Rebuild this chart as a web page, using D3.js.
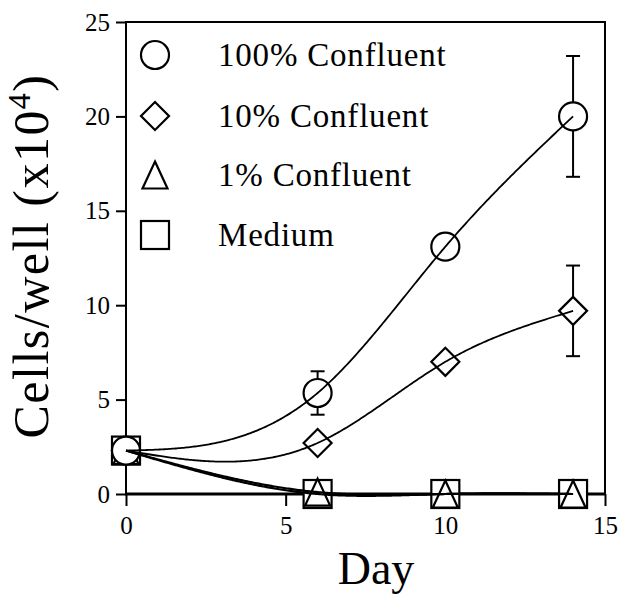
<!DOCTYPE html>
<html><head><meta charset="utf-8">
<script src="https://cdn.jsdelivr.net/npm/d3@7"></script>
<style>body{margin:0;background:#fff}svg{display:block}text{font-family:"Liberation Serif","Times New Roman",serif;fill:#000}</style>
</head><body><svg id="c" width="620" height="594"></svg>
<script>
const days = [0, 6, 10, 14];
const seriesNames = ["100% Confluent", "10% Confluent", "1% Confluent", "Medium"];
const symbolsUsed = ["circle", "diamond", "triangle", "square"];
const conf100 = [2.3, 5.35, 13.1, 20.0];
const conf10 = [2.3, 2.7, 7.0, 9.7];
const conf1 = [2.3, 0.1, 0.0, 0.0];
const medium = [2.3, 0.0, 0.0, 0.0];
const err100 = [0, 1.15, 0, 3.2];
const err10 = [0, 0, 0, 2.4];
const err1 = [0, 0, 0, 0];
const errMedium = [0, 0, 0, 0];
const xTicks = [0, 5, 10, 15];
const yTicks = [0, 5, 10, 15, 20, 25];

const svg = d3.select("#c");
const x = d3.scaleLinear().domain([0, 15]).range([126, 605]);
const y = d3.scaleLinear().domain([0, 25]).range([494, 22]);

// natural cubic spline in x (smooth fit curve through the measured points)
function naturalSpline(xs, ys) {
  const n = xs.length, h = [], M = new Array(n).fill(0);
  for (let i = 0; i < n - 1; i++) h.push(xs[i + 1] - xs[i]);
  const a = [], b = [], c = [], r = [];
  for (let i = 1; i < n - 1; i++) {
    a.push(h[i - 1]); b.push(2 * (h[i - 1] + h[i])); c.push(h[i]);
    r.push(6 * ((ys[i + 1] - ys[i]) / h[i] - (ys[i] - ys[i - 1]) / h[i - 1]));
  }
  const m = b.length;
  for (let i = 1; i < m; i++) { const w = a[i] / b[i - 1]; b[i] -= w * c[i - 1]; r[i] -= w * r[i - 1]; }
  const sol = new Array(m);
  for (let i = m - 1; i >= 0; i--) sol[i] = (r[i] - (i < m - 1 ? c[i] * sol[i + 1] : 0)) / b[i];
  for (let i = 0; i < m; i++) M[i + 1] = sol[i];
  return t => {
    let i = 0; while (i < n - 2 && t > xs[i + 1]) i++;
    const hi = h[i], A = (xs[i + 1] - t) / hi, B = (t - xs[i]) / hi;
    return A * ys[i] + B * ys[i + 1] + ((A * A * A - A) * M[i] + (B * B * B - B) * M[i + 1]) * hi * hi / 6;
  };
}

const series = [
  {name: seriesNames[0], sym: symbolsUsed[0], v: conf100, e: err100, w: 1.8},
  {name: seriesNames[1], sym: symbolsUsed[1], v: conf10, e: err10, w: 1.8},
  {name: seriesNames[2], sym: symbolsUsed[2], v: conf1, e: err1, w: 2.2},
  {name: seriesNames[3], sym: symbolsUsed[3], v: medium, e: errMedium, w: 2.2}
];

function drawSym(g, sym, cx, cy) {
  const s = g.append("g").attr("transform", `translate(${cx},${cy})`)
    .attr("fill", "#fff").attr("stroke", "#000").attr("stroke-width", 2.2);
  if (sym === "circle") s.append("circle").attr("r", 14);
  else if (sym === "diamond") s.append("path").attr("d", "M0,-14L14,0L0,14L-14,0Z");
  else if (sym === "triangle") s.append("path").attr("d", "M0,-13.5L12.5,13.5L-12.5,13.5Z");
  else s.append("rect").attr("x", -14).attr("y", -14).attr("width", 28).attr("height", 28);
}

// axes
const yAxis = d3.axisLeft(y).tickValues(yTicks).tickSize(10).tickPadding(6).tickFormat(d3.format("d"));
const gy = svg.append("g").attr("transform", "translate(126,0)").call(yAxis);
const xAxis = d3.axisBottom(x).tickValues(xTicks).tickSize(12).tickPadding(10).tickFormat(d3.format("d"));
const gx = svg.append("g").attr("transform", "translate(0,494)").call(xAxis);
[gx, gy].forEach(g => {
  g.select(".domain").remove();
  g.selectAll("line").attr("stroke", "#000").attr("stroke-width", 2);
  g.selectAll("text").attr("font-size", 25).attr("font-family", '"Liberation Serif",serif').attr("fill", "#000");
});

// frame
const frame = svg.append("g").attr("stroke", "#000").attr("fill", "none");
frame.append("line").attr("x1", x(0)).attr("x2", x(0)).attr("y1", y(25) - 1).attr("y2", y(0)).attr("stroke-width", 2);
frame.append("line").attr("x1", x(0)).attr("x2", x(15) + 1).attr("y1", y(25)).attr("y2", y(25)).attr("stroke-width", 2);
frame.append("line").attr("x1", x(15)).attr("x2", x(15)).attr("y1", y(25)).attr("y2", y(0)).attr("stroke-width", 2);
frame.append("line").attr("x1", x(0) - 1).attr("x2", x(15) + 1).attr("y1", y(0)).attr("y2", y(0)).attr("stroke-width", 3);

// error bars
const eb = svg.append("g").attr("stroke", "#000").attr("stroke-width", 2);
series.forEach(s => {
  days.forEach((d, i) => {
    if (s.e[i] > 0) {
      const cx = x(d);
      eb.append("line").attr("x1", cx).attr("x2", cx).attr("y1", y(s.v[i] - s.e[i])).attr("y2", y(s.v[i] + s.e[i]));
      [s.v[i] - s.e[i], s.v[i] + s.e[i]].forEach(val => {
        eb.append("line").attr("x1", cx - 7).attr("x2", cx + 7).attr("y1", y(val)).attr("y2", y(val));
      });
    }
  });
});

// markers (back to front)
const mk = svg.append("g");
[3, 2, 1, 0].forEach(k => {
  const s = series[k];
  days.forEach((d, i) => drawSym(mk, s.sym, x(d), y(s.v[i])));
});

// fitted curves
series.forEach(s => {
  const f = naturalSpline(days, s.v);
  const xs = d3.range(days[0], days[days.length - 1] + 0.001, 0.05);
  const line = d3.line().x(t => x(t)).y(t => y(f(t)));
  svg.append("path").attr("d", line(xs)).attr("fill", "none").attr("stroke", "#000").attr("stroke-width", s.w);
});

// legend
const lg = svg.append("g");
const rows = [55, 116, 175, 235];
series.forEach((s, i) => {
  drawSym(lg, s.sym, 155, rows[i]);
  lg.append("text").attr("x", 218).attr("y", rows[i] + 11).attr("font-size", 33)
    .attr("letter-spacing", 0.8).text(s.name);
});

// axis titles
svg.append("text").attr("x", 376).attr("y", 584).attr("text-anchor", "middle").attr("font-size", 46).text("Day");
const yt = svg.append("text").attr("transform", "translate(48,256) rotate(-90)").attr("text-anchor", "middle")
  .attr("font-size", 50).attr("letter-spacing", 1.5);
yt.append("tspan").text("Cells/well (x10");
yt.append("tspan").attr("font-size", 32).attr("dy", -18).text("4");
yt.append("tspan").attr("dy", 18).text(")");
</script></body></html>
